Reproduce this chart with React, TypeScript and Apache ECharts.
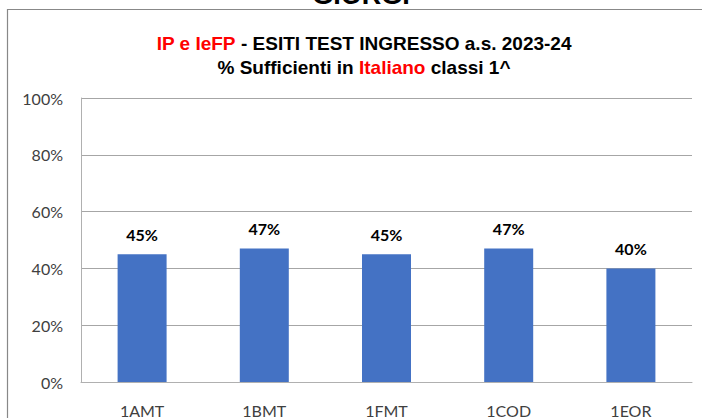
import React, { useEffect, useRef } from "react";
import * as echarts from "echarts";

const categories = ["1AMT", "1BMT", "1FMT", "1COD", "1EOR"];
const values = [45, 47, 45, 47, 40];
const yTicks = [0, 20, 40, 60, 80, 100];

export default function App() {
  const ref = useRef<HTMLDivElement>(null);
  useEffect(() => {
    if (!ref.current) return;
    const chart = echarts.init(ref.current, undefined, { renderer: "svg" });
    chart.setOption({
      animation: false,
      backgroundColor: "#ffffff",
      title: {
        text:
          "{r|IP e IeFP}{b| - ESITI TEST INGRESSO a.s. 2023-24}\n{b|% Sufficienti in }{r|Italiano}{b| classi 1^}",
        left: 359,
        top: 26,
        textAlign: "center",
        textStyle: {
          fontFamily: "Liberation Sans",
          fontSize: 19,
          fontWeight: "bold",
          lineHeight: 24,
          rich: {
            r: { color: "#ff0000", fontFamily: "Liberation Sans", fontSize: 19, fontWeight: "bold", lineHeight: 24 },
            b: { color: "#000000", fontFamily: "Liberation Sans", fontSize: 19, fontWeight: "bold", lineHeight: 24 },
          },
        },
      },
      graphic: [
        {
          type: "rect",
          shape: { x: 7.5, y: 9.5, width: 800, height: 500 },
          style: { fill: "none", stroke: "#888888", lineWidth: 1.2 },
          silent: true,
        },
        {
          type: "text",
          x: 361,
          y: -5,
          style: {
            text: "GIORGI",
            fontFamily: "Liberation Sans",
            fontSize: 27,
            fontWeight: "bold",
            fill: "#000000",
            align: "center",
            verticalAlign: "middle",
          },
          silent: true,
        },
      ],
      grid: { left: 81, right: 10, top: 98, bottom: 34, containLabel: false },
      xAxis: {
        type: "category",
        data: categories,
        axisLine: { show: true, lineStyle: { color: "#b0b0b0", width: 1 } },
        axisTick: { show: false },
        axisLabel: {
          color: "#404040",
          fontFamily: "Lato",
          fontSize: 16,
          margin: 20,
        },
      },
      yAxis: {
        type: "value",
        min: yTicks[0],
        max: yTicks[yTicks.length - 1],
        interval: 20,
        axisLine: { show: true, lineStyle: { color: "#b0b0b0", width: 1 } },
        axisTick: { show: false },
        splitLine: { show: true, lineStyle: { color: "#a6a6a6", width: 1 } },
        axisLabel: {
          color: "#404040",
          fontFamily: "Lato",
          fontSize: 16,
          margin: 18,
          formatter: (v: number) => v + "%",
        },
      },
      series: [
        {
          type: "bar",
          data: values,
          barWidth: 49,
          itemStyle: { color: "#4472C4" },
          label: {
            show: true,
            position: "top",
            distance: 12,
            formatter: (p: any) => p.value + "%",
            color: "#000000",
            fontFamily: "Lato",
            fontWeight: "bold",
            fontSize: 16,
          },
        },
      ],
    });
    return () => chart.dispose();
  }, []);
  return (
    <div
      ref={ref}
      style={{ position: "fixed", left: 0, top: 0, width: 702, height: 418 }}
    />
  );
}
